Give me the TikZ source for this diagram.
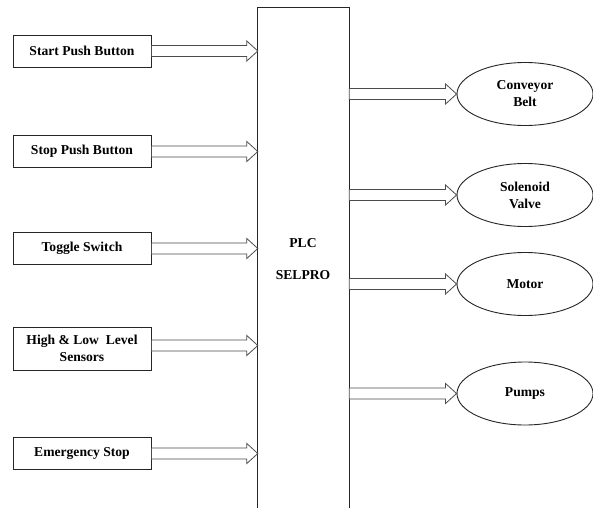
\documentclass[tikz,border=0pt]{standalone}
\usepackage{fontspec}
\setmainfont{Liberation Serif}
\usetikzlibrary{shapes.geometric,calc}
\newcommand\harrow[2]{\draw[arr] let \p1=(#1), \p2=(#2) in
  (\x1,\y1+5.5pt) -- (\x2-11pt,\y1+5.5pt) -- (\x2-11pt,\y1+10pt) -- (\x2,\y1)
  -- (\x2-11pt,\y1-10pt) -- (\x2-11pt,\y1-5.5pt) -- (\x1,\y1-5.5pt) -- cycle;}
\begin{document}
\begin{tikzpicture}[x=1pt,y=-1pt,
  lbl/.style={font=\fontsize{13.6}{17}\selectfont\bfseries,align=center},
  inbox/.style={lbl,draw=black!85,line width=0.9pt,minimum width=138pt,minimum height=32pt,inner sep=0pt},
  outell/.style={lbl,ellipse,draw=black!85,line width=0.9pt,minimum width=136pt,minimum height=63pt,inner sep=0pt},
  arr/.style={draw=black!70,line width=0.8pt,fill=white,line join=miter}]
\useasboundingbox[fill=white] (0,0) rectangle (593,508);
% PLC block
\node[minimum width=91pt,minimum height=500pt,inner sep=0pt] (plc) at (303.5,258) {};
\draw[draw=black!85,line width=0.9pt] (plc.south west) -- (plc.north west) -- (plc.north east) -- (plc.south east);
\node[lbl] (plct) at (303,243) {PLC};
\node[lbl] (selpro) at (303,275) {SELPRO};
% inputs
\node[inbox] (s1) at (82,51) {Start Push Button};
\node[inbox] (s2) at (82,151.5) {Stop Push Button};
\node[inbox] (s3) at (82,248.5) {Toggle Switch};
\node[inbox,minimum height=43pt] (s4) at (82,348.5) {High \& Low\ \ Level\\Sensors};
\node[inbox] (s5) at (82,453.5) {Emergency Stop};
\harrow{s1.east}{s1.east -| plc.west}
\harrow{s2.east}{s2.east -| plc.west}
\harrow{s3.east}{s3.east -| plc.west}
\harrow{[yshift=3pt]s4.east}{[yshift=3pt]s4.east -| plc.west}
\harrow{s5.east}{s5.east -| plc.west}
% outputs
\node[outell] (o1) at (525,94) {Conveyor\\Belt};
\node[outell] (o2) at (525,195) {Solenoid\\Valve};
\node[outell] (o3) at (525,284) {Motor};
\node[outell] (o4) at (525,393.5) {Pumps};
\harrow{plc.east |- o1.west}{o1.west}
\harrow{plc.east |- o2.west}{o2.west}
\harrow{plc.east |- o3.west}{o3.west}
\harrow{plc.east |- o4.west}{o4.west}
\end{tikzpicture}
\end{document}
